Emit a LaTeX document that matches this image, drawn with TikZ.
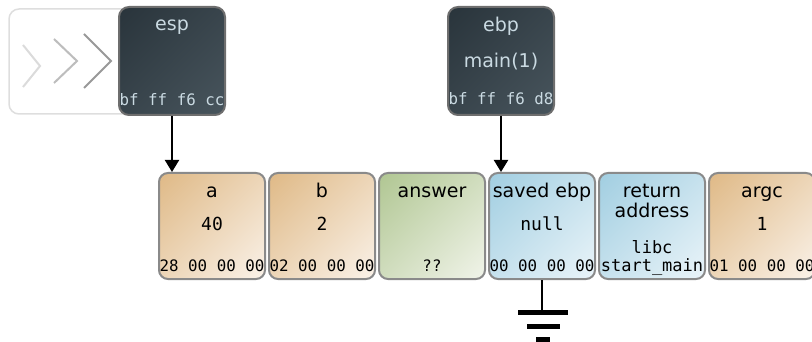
\documentclass[tikz,border=0pt]{standalone}
\usepackage{fontspec}
\setmainfont{DejaVu Sans}
\setmonofont{DejaVu Sans Mono}
\usetikzlibrary{arrows.meta,shadings}
\definecolor{cellborder}{HTML}{8A8A8A}
\definecolor{tanA}{HTML}{DFB986}
\definecolor{tanB}{HTML}{FAF2E9}
\definecolor{greenA}{HTML}{B0C692}
\definecolor{greenB}{HTML}{F1F4EA}
\definecolor{blueA}{HTML}{A1CEE1}
\definecolor{blueB}{HTML}{EAF4F9}
\definecolor{darkA}{HTML}{29343B}
\definecolor{darkB}{HTML}{48555D}
\definecolor{darktext}{HTML}{CADAE2}
\begin{document}
\begin{tikzpicture}[x=1pt,y=-1pt,
  cell/.style={draw=cellborder, line width=2pt, rounded corners=9pt,
    minimum width=106pt, minimum height=106pt, inner sep=0pt},
  tancell/.style={cell, upper left=tanA, lower right=tanB,
    upper right=tanA!50!tanB, lower left=tanA!50!tanB},
  greencell/.style={cell, upper left=greenA, lower right=greenB,
    upper right=greenA!50!greenB, lower left=greenA!50!greenB},
  bluecell/.style={cell, upper left=blueA, lower right=blueB,
    upper right=blueA!50!blueB, lower left=blueA!50!blueB},
  regbox/.style={draw=cellborder!80!black, line width=2pt, rounded corners=10pt,
    minimum width=106pt, minimum height=108pt, inner sep=0pt,
    upper left=darkA, lower right=darkB,
    upper right=darkA!50!darkB, lower left=darkA!50!darkB},
  lbl/.style={anchor=base, inner sep=0pt, font=\fontsize{19}{22}\selectfont},
  reglbl/.style={lbl, text=darktext},
  val/.style={anchor=base, inner sep=0pt, font=\ttfamily\fontsize{18}{20}\selectfont},
  bytes/.style={anchor=base, inner sep=0pt, font=\ttfamily\fontsize{15.8}{18}\selectfont},
  regbytes/.style={bytes, text=darktext},
  arr/.style={line width=2pt, -{Triangle[width=14pt,length=12pt]}},
  gbar/.style={line width=5pt}
]
\useasboundingbox (0,0) rectangle (812,342);

% ghost box with chevrons
\draw[draw=black!13, fill=white, line width=1.5pt, rounded corners=10pt]
  (9,9) rectangle (200,114);
\draw[black!14, line width=2pt] (23,45) -- (40,66) -- (23,87);
\draw[black!26, line width=2pt] (54,39) -- (77,61) -- (54,83);
\draw[black!40, line width=2pt] (84,34) -- (111,61) -- (84,88);

% registers
\node[regbox] (esp) at (172,61) {};
\node[reglbl] at (172,31) {esp};
\node[regbytes] at (172,106) {bf ff f6 cc};

\node[regbox] (ebp) at (501,61) {};
\node[reglbl] at (501,32) {ebp};
\node[reglbl] at (501,68) {main(1)};
\node[regbytes] at (501,105) {bf ff f6 d8};

% memory cells
\node[tancell] (a) at (212,226) {};
\node[lbl] at (212,197) {a};
\node[val] at (212,230) {40};
\node[bytes] at (212,271) {28 00 00 00};

\node[tancell] (b) at (322,226) {};
\node[lbl] at (322,197) {b};
\node[val] at (322,230) {2};
\node[bytes] at (322,271) {02 00 00 00};

\node[greencell] (ans) at (432,226) {};
\node[lbl] at (432,197) {answer};
\node[bytes] at (432,271) {??};

\node[bluecell] (sebp) at (542,226) {};
\node[lbl] at (542,197) {saved ebp};
\node[val] at (542,231) {null};
\node[bytes] at (542,271) {00 00 00 00};

\node[bluecell] (ret) at (652,226) {};
\node[lbl] at (652,197) {return};
\node[lbl] at (652,218) {address};
\node[val, font=\ttfamily\fontsize{17}{20}\selectfont] at (652,253) {libc};
\node[val, font=\ttfamily\fontsize{17}{20}\selectfont] at (652,271) {start\_main};

\node[tancell] (argc) at (762,226) {};
\node[lbl] at (762,197) {argc};
\node[val] at (762,231) {1};
\node[bytes] at (762,271) {01 00 00 00};

% pointers
\draw[arr] (esp.south) -- (esp.south |- a.north);
\draw[arr] (ebp.south) -- (ebp.south |- sebp.north);

% ground
\coordinate (gnd) at (542,312);
\draw[line width=2.5pt] (sebp.south) -- (gnd);
\draw[gbar] (518,312) -- (568,312);
\draw[gbar] (527,326) -- (560,326);
\draw[gbar] (536,339) -- (550,339);
\end{tikzpicture}
\end{document}
